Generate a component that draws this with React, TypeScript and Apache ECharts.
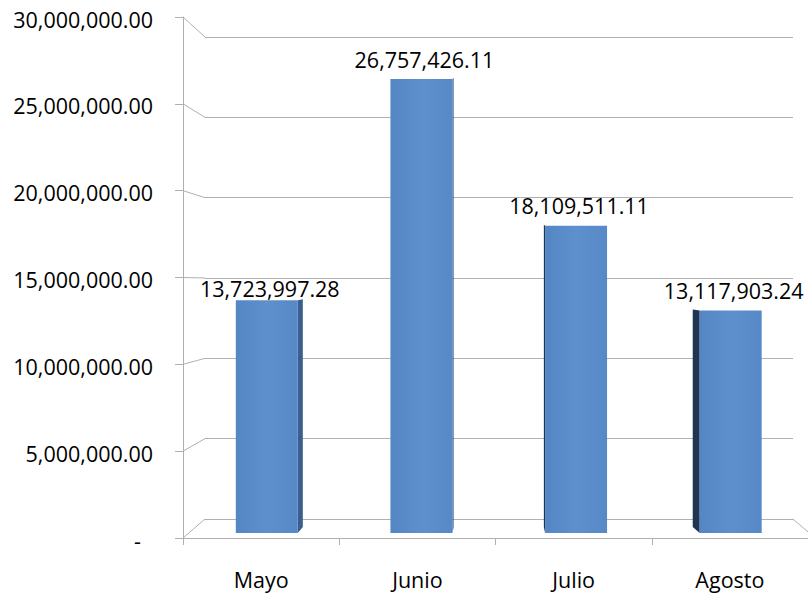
import React, { useEffect, useRef } from "react";
import * as echarts from "echarts";

const categories = ["Mayo", "Junio", "Julio", "Agosto"];
const values = [13723997.28, 26757426.11, 18109511.11, 13117903.24];
const yMin = 0;
const yMax = 30000000;
const yInterval = 5000000;
const tickValues = [0, 5000000, 10000000, 15000000, 20000000, 25000000, 30000000];

const FONT = "'Open Sans', 'Noto Sans', sans-serif";
const FS = 21.5;
const fmt = (v: number) =>
  v.toLocaleString("en-US", { minimumFractionDigits: 2, maximumFractionDigits: 2 });

// layout (pixels)
const L = { left: 183, top: 17, bottom: 538 }; // front-left axis
const B = { left: 205, right: 793, top: 37, bottom: 519 }; // back wall

export default function App() {
  const ref = useRef<HTMLDivElement>(null);
  useEffect(() => {
    document.body.style.margin = "0";
    const chart = echarts.init(ref.current!, undefined, { renderer: "svg" });
    const gray = "#b0b0b0";
    const option: any = {
      animation: false,
      backgroundColor: "#ffffff",
      textStyle: { fontFamily: FONT },
      grid: [
        { left: L.left, top: L.top, width: B.left - L.left, height: L.bottom - L.top },
        { left: B.left, top: B.top, width: B.right - B.left, height: B.bottom - B.top },
        { left: L.left, top: L.top, width: 634, height: L.bottom - L.top },
        { left: 189.5, top: 24, width: 620, height: 509 },
      ],
      xAxis: [
        { gridIndex: 0, type: "value", min: 0, max: 1, show: false },
        { gridIndex: 1, type: "value", min: 0, max: 1, show: false },
        {
          gridIndex: 2,
          type: "category",
          data: categories,
          boundaryGap: true,
          axisLine: { show: true, lineStyle: { color: gray, width: 1 } },
          axisTick: { show: true, length: 7, inside: false, lineStyle: { color: gray } },
          axisLabel: { margin: 30, color: "#000", fontSize: FS, fontFamily: FONT, lineHeight: 22 },
        },
        { gridIndex: 3, type: "category", data: categories, show: false },
      ],
      yAxis: [
        {
          gridIndex: 0,
          type: "value",
          min: yMin,
          max: yMax,
          interval: yInterval,
          axisLine: { show: true, lineStyle: { color: gray, width: 1 } },
          axisTick: { show: true, length: 8, lineStyle: { color: gray } },
          splitLine: { show: false },
          axisLabel: {
            margin: 30,
            color: "#000",
            fontSize: FS,
            fontFamily: FONT,
            lineHeight: 22,
            padding: [4, 0, 0, 0],
            formatter: (v: number) => (v === 0 ? "{d|-}" : fmt(v)),
            rich: { d: { fontSize: FS, fontFamily: FONT, color: "#000", padding: [0, 12, 0, 0] } },
          },
        },
        {
          gridIndex: 1,
          type: "value",
          min: yMin,
          max: yMax,
          interval: yInterval,
          axisLine: { show: false },
          axisTick: { show: false },
          axisLabel: { show: false },
          splitLine: { show: true, lineStyle: { color: gray, width: 1 } },
        },
        { gridIndex: 2, type: "value", min: yMin, max: yMax, show: false },
        { gridIndex: 3, type: "value", min: yMin, max: yMax, interval: yInterval, show: false },
      ],
      series: [
        {
          type: "custom",
          xAxisIndex: 0,
          yAxisIndex: 0,
          clip: false,
          silent: true,
          data: tickValues,
          renderItem: (params: any, api: any) => {
            const v = api.value(0);
            const p1 = api.coord([0, v]);
            const backY = B.bottom - (v / yMax) * (B.bottom - B.top);
            const vb = ((L.bottom - backY) / (L.bottom - L.top)) * yMax;
            const p2 = api.coord([1, vb]);
            return {
              type: "line",
              shape: { x1: p1[0], y1: p1[1], x2: p2[0], y2: p2[1] },
              style: { stroke: gray, lineWidth: 1 },
            };
          },
        },
        {
          type: "bar",
          xAxisIndex: 3,
          yAxisIndex: 3,
          barWidth: 62,
          data: values.map((v, i) => ({
            value: v,
            label: i === 0 ? { offset: [3, 8] } : undefined,
          })),
          itemStyle: {
            color: {
              type: "linear",
              x: 0,
              y: 0,
              x2: 1,
              y2: 0,
              colorStops: [
                { offset: 0, color: "#5586c4" },
                { offset: 0.5, color: "#5e90cd" },
                { offset: 1, color: "#5889c7" },
              ],
            },
          },
          label: {
            show: true,
            position: "top",
            distance: 9,
            offset: [3, 0],
            color: "#000",
            fontSize: FS,
            lineHeight: 22,
            fontFamily: FONT,
            formatter: (p: any) => fmt(p.value),
          },
        },
        {
          type: "custom",
          xAxisIndex: 3,
          yAxisIndex: 3,
          silent: true,
          clip: false,
          data: values.map((v, i) => [i, v]),
          renderItem: (params: any, api: any) => {
            const top = api.coord([api.value(0), api.value(1)]);
            const bot = api.coord([api.value(0), 0]);
            const cx = top[0];
            let dx = (461 - cx) * 0.0258;
            if (Math.abs(dx) < 4) dx = dx > 0 ? 1.2 : -1.2;
            const xe = dx > 0 ? cx + 31 : cx - 31;
            return {
              type: "polygon",
              shape: {
                points: [
                  [xe, top[1]],
                  [xe + dx, top[1] - 1],
                  [xe + dx, bot[1] - 6],
                  [xe, bot[1]],
                ],
              },
              style: { fill: dx > 0 ? "#3a5e8d" : "#1f3551" },
            };
          },
        },
      ],
      graphic: [
        {
          type: "line",
          shape: { x1: B.right, y1: B.bottom, x2: B.right + 22, y2: L.bottom },
          style: { stroke: gray, lineWidth: 1 },
          silent: true,
        },
      ],
    };
    chart.setOption(option);
    return () => chart.dispose();
  }, []);
  return <div ref={ref} style={{ width: 808, height: 597 }} />;
}
